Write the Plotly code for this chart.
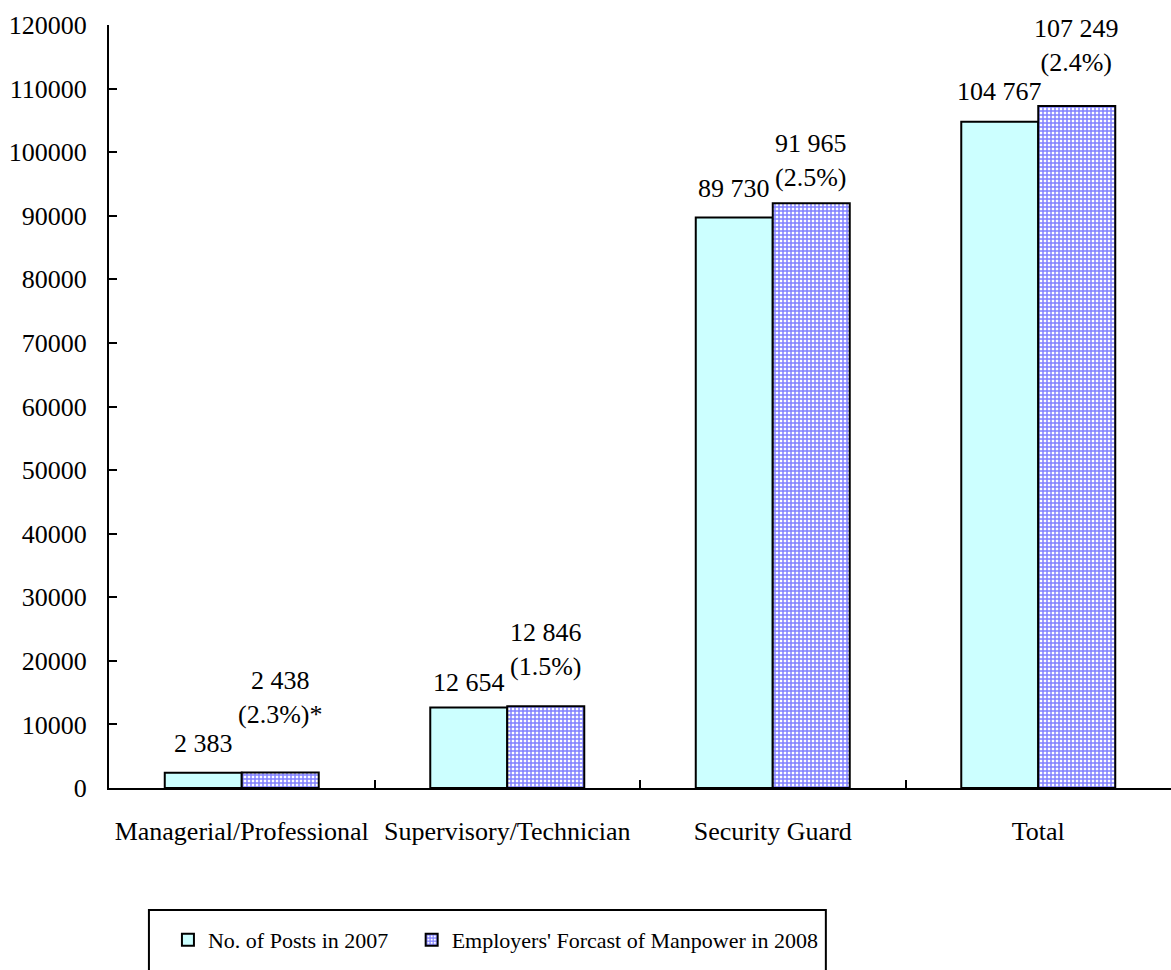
import plotly.graph_objects as go

categories = ["Managerial/Professional", "Supervisory/Technician", "Security Guard", "Total"]
posts_2007 = [2383, 12654, 89730, 104767]
forecast_2008 = [2438, 12846, 91965, 107249]
labels_2007 = ["2 383", "12 654", "89 730", "104 767"]
labels_2008 = ["2 438<br>(2.3%)*", "12 846<br>(1.5%)", "91 965<br>(2.5%)", "107 249<br>(2.4%)"]
y_ticks = [0, 10000, 20000, 30000, 40000, 50000, 60000, 70000, 80000, 90000, 100000, 110000, 120000]

FONT = "Liberation Serif, Times New Roman, serif"
BARGAP = 0.42
half = (1 - BARGAP) / 4  # offset of each bar centre from category centre

# per-label vertical nudges (px), mimicking the hand-placed labels of the original
nudge_2007 = [13, 9, 12, 14]
nudge_2008 = [42, 23, 9, 27]

fig = go.Figure()
fig.add_trace(go.Bar(
    x=categories, y=posts_2007, name="No. of Posts in 2007",
    marker=dict(color="#ccffff", line=dict(color="black", width=2)),
    legend="legend",
))
fig.add_trace(go.Bar(
    x=categories, y=forecast_2008, name="Employers' Forcast of Manpower in 2008",
    marker=dict(color="white", line=dict(color="black", width=2),
                pattern=dict(shape="+", fgcolor="#0000ff", bgcolor="white", size=4, solidity=0.6)),
    legend="legend2",
))

annotations = []
for i, (v, t, n) in enumerate(zip(posts_2007, labels_2007, nudge_2007)):
    annotations.append(dict(x=i - half, y=v, xref="x", yref="y", text=t, showarrow=False,
                            yanchor="bottom", yshift=n,
                            font=dict(family=FONT, size=26, color="black")))
for i, (v, t, n) in enumerate(zip(forecast_2008, labels_2008, nudge_2008)):
    annotations.append(dict(x=i + half, y=v, xref="x", yref="y", text=t, showarrow=False,
                            yanchor="bottom", yshift=n,
                            font=dict(family=FONT, size=26, color="black")))

legend_common = dict(orientation="h", y=-0.199, yanchor="middle",
                     bgcolor="rgba(0,0,0,0)", borderwidth=0, itemwidth=30,
                     font=dict(family=FONT, size=22, color="black"))

fig.update_layout(
    width=1171, height=970,
    margin=dict(l=109, r=0, t=25, b=182),
    paper_bgcolor="white", plot_bgcolor="white",
    barmode="group", bargap=BARGAP, bargroupgap=0,
    font=dict(family=FONT, size=26, color="black"),
    showlegend=True,
    legend=dict(x=0.0555, xanchor="left", **legend_common),
    legend2=dict(x=0.285, xanchor="left", **legend_common),
    annotations=annotations,
    xaxis=dict(showline=True, linecolor="black", linewidth=2,
               ticks="inside", tickson="boundaries", ticklen=8, tickwidth=2, tickcolor="black",
               ticklabelstandoff=19, showgrid=False,
               tickfont=dict(family=FONT, size=26, color="black")),
    yaxis=dict(range=[0, 120000], tickvals=y_ticks, ticktext=[str(v) for v in y_ticks],
               showline=True, linecolor="black", linewidth=2,
               ticks="inside", ticklen=8, tickwidth=2, tickcolor="black",
               showgrid=False, zeroline=False, ticklabelstandoff=15,
               tickfont=dict(family=FONT, size=26, color="black")),
    shapes=[dict(type="rect", xref="paper", yref="paper",
                 x0=0.0376, x1=0.675, y0=-0.30, y1=-0.160,
                 line=dict(color="black", width=2), fillcolor="rgba(0,0,0,0)")],
)

fig.write_html("out.html")
